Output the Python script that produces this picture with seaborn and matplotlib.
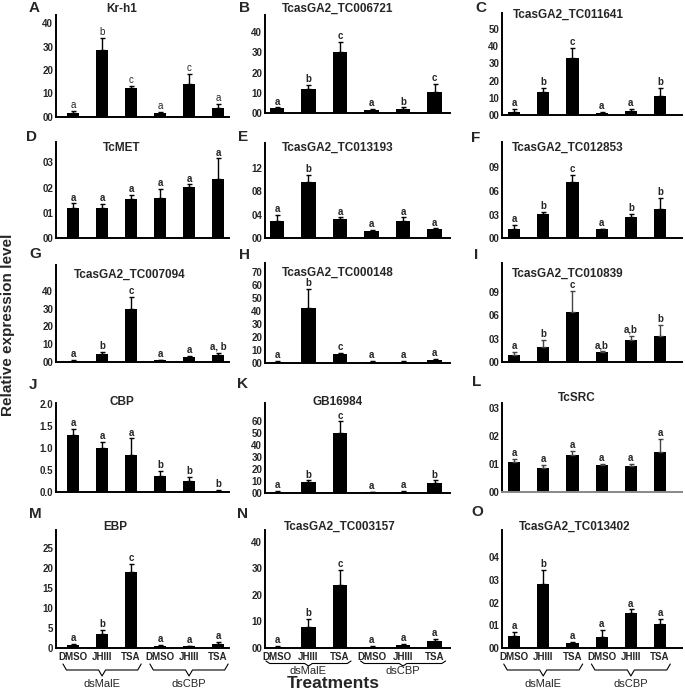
import numpy as np
import pandas as pd
import matplotlib
matplotlib.use("Agg")
import matplotlib.pyplot as plt
import matplotlib.transforms as mtransforms
from matplotlib.lines import Line2D
import seaborn as sns

# ---------------- data ----------------
conditions = ["dsMalE DMSO", "dsMalE JHIII", "dsMalE TSA",
              "dsCBP DMSO", "dsCBP JHIII", "dsCBP TSA"]
treatment_labels = ["DMSO", "JHIII", "TSA", "DMSO", "JHIII", "TSA"]
group_labels = ["dsMalE", "dsCBP"]

panel_letters = list("ABCDEFGHIJKLMNO")
genes = ["Kr-h1", "TcasGA2_TC006721", "TcasGA2_TC011641",
         "TcMET", "TcasGA2_TC013193", "TcasGA2_TC012853",
         "TcasGA2_TC007094", "TcasGA2_TC000148", "TcasGA2_TC010839",
         "CBP", "GB16984", "TcSRC",
         "EBP", "TcasGA2_TC003157", "TcasGA2_TC013402"]

mean_A = [1.7, 28.6, 12.1, 1.4, 14.0, 3.9]
top_A = [2.4, 33.6, 13.3, 1.9, 18.3, 5.4]
sig_A = ["a", "b", "c", "a", "c", "a"]

mean_B = [2.4, 11.8, 29.9, 1.6, 2.0, 10.6]
top_B = [2.9, 13.9, 34.8, 2.1, 2.9, 14.4]
sig_B = ["a", "b", "c", "a", "b", "c"]

mean_C = [1.9, 13.6, 32.9, 1.4, 2.3, 11.0]
top_C = [3.3, 15.9, 38.8, 1.9, 3.3, 15.5]
sig_C = ["a", "b", "c", "a", "a", "b"]

mean_D = [1.18, 1.21, 1.55, 1.60, 2.03, 2.33]
top_D = [1.38, 1.36, 1.71, 1.95, 2.13, 3.16]
sig_D = ["a", "a", "a", "a", "a", "a"]

mean_E = [2.8, 9.6, 3.2, 1.15, 2.9, 1.44]
top_E = [3.9, 10.8, 3.5, 1.3, 3.5, 1.6]
sig_E = ["a", "b", "a", "a", "a", "a"]

mean_F = [1.14, 3.04, 7.1, 1.14, 2.75, 3.68]
top_F = [1.69, 3.3, 8.03, 1.23, 3.08, 5.07]
sig_F = ["a", "b", "c", "a", "b", "b"]

mean_G = [0.74, 4.5, 29.8, 1.1, 2.8, 4.1]
top_G = [1.1, 6.0, 36.7, 1.5, 3.7, 5.4]
sig_G = ["a", "b", "c", "a", "a", "a, b"]

mean_H = [1.0, 42.5, 7.0, 0.8, 0.8, 2.2]
top_H = [1.8, 57.0, 7.8, 1.3, 1.3, 3.0]
sig_H = ["a", "b", "c", "a", "a", "a"]

mean_I = [0.94, 2.0, 6.43, 1.37, 2.87, 3.39]
top_I = [1.29, 2.87, 9.17, 1.46, 3.39, 4.8]
sig_I = ["a", "b", "c", "a,b", "a,b", "b"]

mean_J = [1.30, 0.99, 0.84, 0.36, 0.25, 0.02]
top_J = [1.43, 1.13, 1.22, 0.47, 0.33, 0.04]
sig_J = ["a", "a", "a", "b", "b", "b"]

mean_K = [0.8, 8.9, 50.3, 0.6, 0.8, 8.4]
top_K = [1.4, 10.6, 60.0, 1.1, 1.7, 10.6]
sig_K = ["a", "b", "c", "a", "a", "b"]

mean_L = [1.08, 0.86, 1.30, 0.94, 0.92, 1.42]
top_L = [1.18, 0.96, 1.46, 1.00, 1.00, 1.90]
sig_L = ["a", "a", "a", "a", "a", "a"]

mean_M = [0.7, 3.4, 19.0, 0.5, 0.4, 1.0]
top_M = [1.0, 4.5, 21.0, 0.8, 0.6, 1.5]
sig_M = ["a", "b", "c", "a", "a", "a"]

mean_N = [0.5, 8.0, 23.8, 0.5, 1.0, 2.5]
top_N = [0.8, 11.0, 29.5, 0.8, 1.5, 3.5]
sig_N = ["a", "b", "c", "a", "a", "a"]

mean_O = [0.55, 2.8, 0.2, 0.5, 1.55, 1.05]
top_O = [0.7, 3.45, 0.25, 0.8, 1.7, 1.3]
sig_O = ["a", "b", "a", "a", "a", "a"]

ticks_A = [0, 10, 20, 30, 40]; ticklab_A = ["00", "10", "20", "30", "40"]
ticks_B = [0, 10, 20, 30, 40]; ticklab_B = ["00", "10", "20", "30", "40"]
ticks_C = [0, 10, 20, 30, 40, 50]; ticklab_C = ["00", "10", "20", "30", "40", "50"]
ticks_D = [0, 1, 2, 3]; ticklab_D = ["00", "01", "02", "03"]
ticks_E = [0, 4, 8, 12]; ticklab_E = ["00", "04", "08", "12"]
ticks_F = [0, 3, 6, 9]; ticklab_F = ["00", "03", "06", "09"]
ticks_G = [0, 10, 20, 30, 40]; ticklab_G = ["00", "10", "20", "30", "40"]
ticks_H = [0, 10, 20, 30, 40, 50, 60, 70]; ticklab_H = ["00", "10", "20", "30", "40", "50", "60", "70"]
ticks_I = [0, 3, 6, 9]; ticklab_I = ["00", "03", "06", "09"]
ticks_J = [0, 0.5, 1.0, 1.5, 2.0]; ticklab_J = ["0.0", "0.5", "1.0", "1.5", "2.0"]
ticks_K = [0, 10, 20, 30, 40, 50, 60]; ticklab_K = ["00", "10", "20", "30", "40", "50", "60"]
ticks_L = [0, 1, 2, 3]; ticklab_L = ["00", "01", "02", "03"]
ticks_M = [0, 5, 10, 15, 20, 25]; ticklab_M = ["0", "5", "10", "15", "20", "25"]
ticks_N = [0, 10, 20, 30, 40]; ticklab_N = ["00", "10", "20", "30", "40"]
ticks_O = [0, 1, 2, 3, 4]; ticklab_O = ["00", "01", "02", "03", "04"]

means = [mean_A, mean_B, mean_C, mean_D, mean_E, mean_F, mean_G, mean_H,
         mean_I, mean_J, mean_K, mean_L, mean_M, mean_N, mean_O]
tops = [top_A, top_B, top_C, top_D, top_E, top_F, top_G, top_H,
        top_I, top_J, top_K, top_L, top_M, top_N, top_O]
sigs = [sig_A, sig_B, sig_C, sig_D, sig_E, sig_F, sig_G, sig_H,
        sig_I, sig_J, sig_K, sig_L, sig_M, sig_N, sig_O]
ticks = [ticks_A, ticks_B, ticks_C, ticks_D, ticks_E, ticks_F, ticks_G, ticks_H,
         ticks_I, ticks_J, ticks_K, ticks_L, ticks_M, ticks_N, ticks_O]
ticklabs = [ticklab_A, ticklab_B, ticklab_C, ticklab_D, ticklab_E, ticklab_F,
            ticklab_G, ticklab_H, ticklab_I, ticklab_J, ticklab_K, ticklab_L,
            ticklab_M, ticklab_N, ticklab_O]

# ---------------- layout (pixels) ----------------
W, H = 685, 690
col_x = [(56, 229, (-0.59, 5.38), 0.42),
         (265, 450, (-0.38, 5.49), 0.45),
         (502, 682, (-0.41, 5.75), 0.42)]
# top, base, ymax, tick-label lift (px)
row_specs = [(15, 116.7, 43.6, 0), (15, 113.3, 48.2, 3), (13.3, 115, 59.1, 4),
             (141.7, 238.3, 3.82, 2), (143.3, 237.7, 16.3, 6), (141.7, 238.3, 12.25, 4),
             (265, 362.3, 54.3, 4), (263, 363, 76.7, 4.5), (263, 362.3, 12.7, 5.5),
             (403, 491.7, 2.03, 4), (403, 493, 75.4, 3), (403, 491.7, 3.18, 2),
             (530, 648, 29.5, 2), (530, 648, 44.5, 2), (530, 648, 5.2, 2)]
title_pos = [(122, 9), (338, 9), (568, 15),
             (122, 148), (338, 148), (568, 148),
             (130, 275), (338, 273), (568, 274),
             (122, 402), (338, 402), (577, 398),
             (115, 527), (340, 527), (575, 527)]
letter_pos = [(34, 8), (245, 8), (481, 8),
              (31, 137), (243, 137), (476, 138),
              (35, 254), (245, 255), (476, 255),
              (33, 385), (243, 384), (477, 382),
              (35, 514), (242, 514), (477, 512)]
# y of brace top, brace bar, brace tip, group label (px) per bottom panel
brace_y = [(664, 670, 676, 684), (661, 663.5, 666, 671), (664, 670, 676, 684)]

sns.set_theme(style="white")
plt.rcParams["font.family"] = ["Liberation Sans", "DejaVu Sans"]

fig = plt.figure(figsize=(W / 100, H / 100), dpi=100)


def fx(px):
    return px / W


def fy(py):
    return 1 - py / H


for i in range(15):
    r, c = divmod(i, 3)
    left, right, xlim, bw = col_x[c]
    top, base, ymax, lift = row_specs[i]
    ax = fig.add_axes([fx(left), fy(base), fx(right - left), (base - top) / H])
    df = pd.DataFrame({"condition": conditions, "value": means[i]})
    sns.barplot(data=df, x="condition", y="value", order=conditions,
                color="black", width=bw, errorbar=None, ax=ax,
                saturation=1, edgecolor="black", linewidth=0)
    m = np.array(means[i])
    t = np.array(tops[i])
    xs = np.arange(6)
    ecol = "#444444" if c == 2 and r in (2, 3) else "black"
    ax.errorbar(xs, m, yerr=[np.zeros(6), t - m], fmt="none",
                ecolor=ecol, elinewidth=1.0, capsize=1.8, capthick=1.0)
    for xv, tv, s in zip(xs, t, sigs[i]):
        ax.annotate(s, (xv, tv), xytext=(0, 0.6), textcoords="offset points",
                    ha="center", va="bottom", fontsize=7,
                    fontweight="normal" if i == 0 else "bold")
    ax.set_xlim(*xlim)
    ax.set_ylim(0, ymax)
    ax.set_yticks(ticks[i])
    ax.set_yticklabels(ticklabs[i], fontsize=7, fontweight="bold")
    off = mtransforms.ScaledTranslation(0, lift / 100, fig.dpi_scale_trans)
    for lab in ax.get_yticklabels():
        lab.set_transform(lab.get_transform() + off)
    ax.tick_params(axis="y", length=0, pad=2)
    ax.set_xlabel("")
    ax.set_ylabel("")
    if r == 4:
        ax.set_xticks(xs)
        ax.set_xticklabels(treatment_labels, fontsize=7, fontweight="bold")
        ax.tick_params(axis="x", length=0, pad=3)
    else:
        ax.set_xticks([])
    for sp in ["top", "right"]:
        ax.spines[sp].set_visible(False)
    ax.spines["left"].set_color("black")
    ax.spines["left"].set_linewidth(1.4)
    ax.spines["bottom"].set_linewidth(1.4)
    ax.spines["bottom"].set_color("#888888" if i == 11 else "black")
    ax.patch.set_alpha(0)

    fig.text(fx(title_pos[i][0]), fy(title_pos[i][1]), genes[i],
             ha="center", va="center", fontsize=8.5, fontweight="bold")
    fig.text(fx(letter_pos[i][0]), fy(letter_pos[i][1]), panel_letters[i],
             ha="center", va="center", fontsize=11, fontweight="bold")

    if r == 4:
        y0, y1, y2, yl = brace_y[c]
        tr = mtransforms.blended_transform_factory(ax.transData, fig.transFigure)
        for g, (x0, x1) in enumerate([(-0.35, 2.35), (2.65, 5.35)]):
            xm = (x0 + x1) / 2
            bx = [x0, x0 + 0.12, xm - 0.12, xm, xm + 0.12, x1 - 0.12, x1]
            by = [fy(y0), fy(y1), fy(y1), fy(y2), fy(y1), fy(y1), fy(y0)]
            ax.add_line(Line2D(bx, by, transform=tr, color="black",
                               linewidth=0.8, clip_on=False))
            ax.text(xm, fy(yl), group_labels[g], transform=tr, ha="center",
                    va="center", fontsize=8)

fig.text(fx(8), fy(325), "Relative expression level", rotation=90,
         ha="center", va="center", fontsize=11, fontweight="bold")
fig.text(fx(333), fy(683), "Treatments", ha="center", va="center",
         fontsize=12.5, fontweight="bold")

fig.savefig("out.png", dpi=100, facecolor="white")
